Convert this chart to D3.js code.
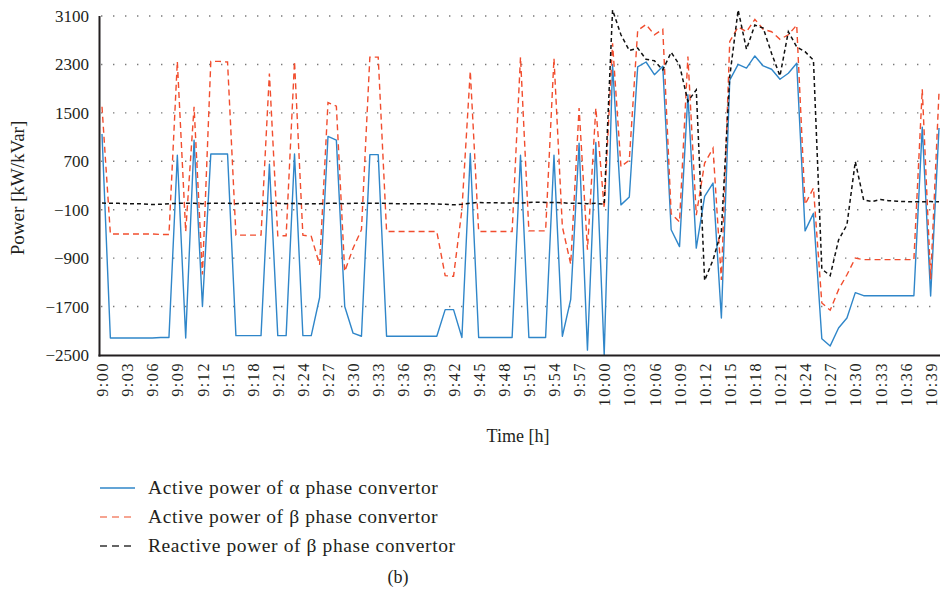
<!DOCTYPE html>
<html>
<head>
<meta charset="utf-8">
<script src="https://cdn.jsdelivr.net/npm/d3@7"></script>
<style>
  body { margin: 0; background: #fff; }
  text { font-family: "Liberation Serif", "Times New Roman", serif; fill: #231f20; }
</style>
</head>
<body>
<svg id="chart" width="945" height="599"></svg>
<script>
// time categories, one per minute
const times = [
  "9:00","9:01","9:02","9:03","9:04","9:05","9:06","9:07","9:08","9:09",
  "9:10","9:11","9:12","9:13","9:14","9:15","9:16","9:17","9:18","9:19",
  "9:20","9:21","9:22","9:23","9:24","9:25","9:26","9:27","9:28","9:29",
  "9:30","9:31","9:32","9:33","9:34","9:35","9:36","9:37","9:38","9:39",
  "9:40","9:41","9:42","9:43","9:44","9:45","9:46","9:47","9:48","9:49",
  "9:50","9:51","9:52","9:53","9:54","9:55","9:56","9:57","9:58","9:59",
  "10:00","10:01","10:02","10:03","10:04","10:05","10:06","10:07","10:08","10:09",
  "10:10","10:11","10:12","10:13","10:14","10:15","10:16","10:17","10:18","10:19",
  "10:20","10:21","10:22","10:23","10:24","10:25","10:26","10:27","10:28","10:29",
  "10:30","10:31","10:32","10:33","10:34","10:35","10:36","10:37","10:38","10:39",
  "10:40"
];

const xTickLabels = ["9:00","9:03","9:06","9:09","9:12","9:15","9:18","9:21","9:24","9:27",
  "9:30","9:33","9:36","9:39","9:42","9:45","9:48","9:51","9:54","9:57",
  "10:00","10:03","10:06","10:09","10:12","10:15","10:18","10:21","10:24","10:27",
  "10:30","10:33","10:36","10:39"];

const yTicks = [3100, 2300, 1500, 700, -100, -900, -1700, -2500];

// Active power of alpha phase convertor
const alphaActive = [
  1150,-2220,-2220,-2220,-2220,-2220,-2220,-2210,-2210,800,
  -2220,1050,-1700,820,820,820,-2180,-2180,-2180,-2180,
  650,-2180,-2180,820,-2180,-2180,-1550,1110,1050,-1700,
  -2140,-2190,810,810,-2190,-2190,-2190,-2190,-2190,-2190,
  -2190,-1750,-1750,-2210,830,-2210,-2210,-2210,-2210,-2210,
  800,-2210,-2210,-2210,800,-2190,-1580,1000,-2420,1010,
  -2500,2300,-20,110,2260,2340,2130,2270,-430,-710,
  1800,-735,120,340,-1890,2040,2300,2240,2440,2275,
  2220,2055,2155,2320,-450,-160,-2230,-2350,-2055,-1890,
  -1470,-1520,-1520,-1520,-1520,-1520,-1520,-1520,1265,-1525,
  1250
];

// Active power of beta phase convertor
const betaActive = [
  1600,-500,-500,-500,-500,-500,-500,-510,-510,2350,
  -460,1600,-1170,2350,2350,2340,-520,-520,-520,-520,
  2150,-530,-530,2350,-520,-540,-1010,1670,1610,-1120,
  -735,-430,2420,2420,-460,-460,-460,-460,-460,-460,
  -460,-1190,-1200,-100,2190,-460,-460,-460,-460,-460,
  2420,-450,-450,-450,2400,-380,-1000,1580,-760,1580,
  -75,2650,610,720,2860,2960,2790,2880,-165,-300,
  2430,-190,670,915,-1260,2680,2920,2840,3045,2880,
  2840,2715,2790,2950,-15,260,-1640,-1760,-1420,-1175,
  -900,-925,-925,-925,-925,-925,-925,-925,1890,-1250,
  1840
];

// Reactive power of beta phase convertor
const betaReactive = [
  10,5,5,0,0,-5,-15,-10,0,5,
  5,5,0,5,5,5,0,5,5,5,
  5,5,0,5,-5,0,0,5,5,0,
  5,5,5,5,5,0,0,0,0,0,
  -5,-10,-20,-10,10,20,15,15,10,10,
  10,20,25,20,20,15,5,5,0,5,
  -10,3200,2790,2530,2570,2385,2360,2210,2500,2290,
  1690,1880,-1270,-930,-450,2100,3200,2550,2950,2900,
  2480,2110,2840,2590,2510,2370,-1080,-1190,-600,-350,
  695,60,35,70,50,40,35,30,30,35,
  30
];

const seriesNames = ["Active power of \u03b1 phase convertor",
  "Active power of \u03b2 phase convertor",
  "Reactive power of \u03b2 phase convertor"];

const svg = d3.select("#chart");

const x = d3.scalePoint().domain(times).range([102, 939]);
const y = d3.scaleLinear().domain([-2500, 3100]).range([355, 16]);

// dotted grid
svg.append("g")
  .selectAll("line")
  .data(yTicks.filter(d => d !== -2500))
  .enter().append("line")
    .attr("x1", 101).attr("x2", 940)
    .attr("y1", d => y(d)).attr("y2", d => y(d))
    .attr("stroke", "#7a7a7a")
    .attr("stroke-width", 1.4)
    .attr("stroke-dasharray", "1.4,10.6");

// y axis labels
const yAxis = svg.append("g")
  .attr("transform", "translate(99,0)")
  .call(d3.axisLeft(y).tickValues(yTicks).tickSize(0).tickPadding(10).tickFormat(d3.format("d")));
yAxis.select(".domain").remove();
yAxis.selectAll("text")
  .style("font-family", "Liberation Serif")
  .style("font-size", "17px")
  .attr("fill", "#231f20");

// x axis labels
const xAxis = svg.append("g")
  .attr("transform", "translate(0,356)")
  .call(d3.axisBottom(x).tickValues(xTickLabels).tickSize(0));
xAxis.select(".domain").remove();
xAxis.selectAll("text")
  .style("font-family", "Liberation Serif")
  .style("font-size", "16px")
  .style("letter-spacing", "1.6px")
  .attr("fill", "#231f20")
  .attr("text-anchor", "end")
  .attr("transform", "rotate(-90)")
  .attr("x", -6)
  .attr("y", 0)
  .attr("dy", "0.35em");

// lines
const line = d3.line()
  .x((d, i) => x(times[i]))
  .y(d => y(d));

svg.append("path")
  .datum(alphaActive)
  .attr("fill", "none")
  .attr("stroke", "#2f86c9")
  .attr("stroke-width", 1.4)
  .attr("stroke-linejoin", "round")
  .attr("d", line);

svg.append("path")
  .datum(betaActive)
  .attr("fill", "none")
  .attr("stroke", "#f14d2e")
  .attr("stroke-width", 1.4)
  .attr("stroke-dasharray", "6,4")
  .attr("d", line);

svg.append("path")
  .datum(betaReactive)
  .attr("fill", "none")
  .attr("stroke", "#111")
  .attr("stroke-width", 1.5)
  .attr("stroke-dasharray", "4,3")
  .attr("d", line);

// axis frame
svg.append("line")
  .attr("x1", 99.5).attr("x2", 99.5)
  .attr("y1", 16).attr("y2", 356.5)
  .attr("stroke", "#231f20").attr("stroke-width", 2);
svg.append("line")
  .attr("x1", 98.5).attr("x2", 940)
  .attr("y1", 355.5).attr("y2", 355.5)
  .attr("stroke", "#231f20").attr("stroke-width", 2.2);

// axis titles
svg.append("text")
  .attr("transform", "translate(24,188) rotate(-90)")
  .attr("text-anchor", "middle")
  .style("font-size", "19px")
  .text("Power [kW/kVar]");

svg.append("text")
  .attr("x", 518).attr("y", 442)
  .attr("text-anchor", "middle")
  .style("font-size", "18px")
  .text("Time [h]");

// legend
const legendStyles = [
  { color: "#2f86c9", dash: null },
  { color: "#f4866d", dash: "7,5" },
  { color: "#333", dash: "7,5" }
];
const legend = svg.append("g");
seriesNames.forEach((name, i) => {
  const ly = 488 + i * 29;
  legend.append("line")
    .attr("x1", 100).attr("x2", 135)
    .attr("y1", ly).attr("y2", ly)
    .attr("stroke", legendStyles[i].color)
    .attr("stroke-width", 1.5)
    .attr("stroke-dasharray", legendStyles[i].dash);
  legend.append("text")
    .attr("x", 148).attr("y", ly + 6)
    .style("font-size", "19.5px")
    .style("letter-spacing", "0.6px")
    .text(name);
});

svg.append("text")
  .attr("x", 398).attr("y", 583)
  .attr("text-anchor", "middle")
  .style("font-size", "18px")
  .text("(b)");
</script>
</body>
</html>
